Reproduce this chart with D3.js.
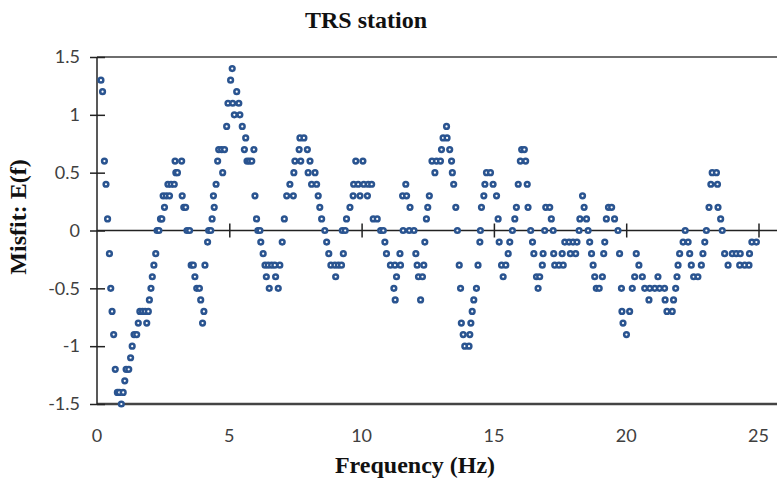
<!DOCTYPE html>
<html>
<head>
<meta charset="utf-8">
<script src="https://cdn.jsdelivr.net/npm/d3@7"></script>
<style>
  html, body { margin: 0; padding: 0; background: #ffffff; }
  svg { display: block; }
</style>
</head>
<body>
<svg id="chart" width="777" height="481"></svg>
<script>
// Titles and tick labels
const chartTitle = "TRS station";
const xTitle = "Frequency (Hz)";
const yTitle = "Misfit: E(f)";
const xTicks = [0, 5, 10, 15, 20, 25];
const xTickLabels = ["0", "5", "10", "15", "20", "25"];
const yTicks = [1.5, 1, 0.5, 0, -0.5, -1, -1.5];
const yTickLabels = ["1.5", "1", "0.5", "0", "-0.5", "-1", "-1.5"];

// Misfit samples: frequency (Hz) and misfit E(f)
const frequencyHz = [
  // 0 - 5 Hz
  0.15, 0.21, 0.28, 0.34, 0.40, 0.47, 0.52, 0.57, 0.63, 0.69,
  0.77, 0.84, 0.92, 0.99, 1.05, 1.10, 1.20, 1.27, 1.33, 1.40,
  1.50, 1.56, 1.62, 1.72, 1.82, 1.88, 1.94, 1.98, 2.04, 2.09,
  2.15, 2.22, 2.27, 2.34, 2.40, 2.45, 2.50, 2.55, 2.62, 2.68,
  2.74, 2.80, 2.92, 2.95, 2.98, 3.04, 3.20, 3.22, 3.28, 3.35,
  3.40, 3.50, 3.56, 3.64, 3.70, 3.77, 3.87, 3.92, 3.99, 4.04,
  4.08, 4.18, 4.22, 4.30, 4.35, 4.40, 4.43, 4.50, 4.56, 4.60,
  4.71, 4.75, 4.82, 4.90, 4.95,
  // 5 - 10 Hz
  5.05, 5.11, 5.13, 5.19, 5.28, 5.36, 5.40, 5.49, 5.57, 5.62,
  5.67, 5.76, 5.85, 5.93, 5.97, 6.03, 6.08, 6.16, 6.19, 6.28,
  6.35, 6.40, 6.47, 6.51, 6.60, 6.72, 6.75, 6.85, 6.91, 7.00,
  7.08, 7.17, 7.29, 7.42, 7.44, 7.48, 7.64, 7.67, 7.70, 7.82,
  7.95, 7.98, 8.05, 8.11, 8.24, 8.30, 8.36, 8.42, 8.49, 8.61,
  8.68, 8.76, 8.84, 8.99, 9.02, 9.12, 9.24, 9.27, 9.31, 9.38,
  9.43, 9.56, 9.68, 9.70, 9.78, 9.87, 9.94,
  // 10 - 15 Hz
  10.05, 10.08, 10.22, 10.25, 10.38, 10.44, 10.59, 10.72, 10.82, 10.88,
  10.94, 11.09, 11.22, 11.26, 11.27, 11.32, 11.45, 11.47, 11.55, 11.57,
  11.67, 11.70, 11.80, 11.83, 11.98, 12.05, 12.10, 12.15, 12.23, 12.30,
  12.35, 12.39, 12.45, 12.50, 12.56, 12.66, 12.77, 12.83, 12.98, 13.02,
  13.08, 13.21, 13.23, 13.33, 13.40, 13.43, 13.48, 13.56, 13.62, 13.69,
  13.74, 13.77, 13.84, 13.90, 14.06, 14.09, 14.13, 14.18, 14.24, 14.34,
  14.40, 14.47, 14.49, 14.53, 14.62, 14.66, 14.72, 14.87, 14.97,
  // 15 - 20 Hz
  15.10, 15.16, 15.20, 15.29, 15.35, 15.45, 15.54, 15.60, 15.70, 15.79,
  15.85, 15.92, 16.00, 16.05, 16.15, 16.20, 16.26, 16.29, 16.39, 16.46,
  16.51, 16.61, 16.67, 16.73, 16.83, 16.86, 16.92, 16.96, 17.11, 17.17,
  17.24, 17.26, 17.30, 17.46, 17.58, 17.62, 17.68, 17.84, 17.89, 17.99,
  18.09, 18.14, 18.22, 18.25, 18.35, 18.41, 18.50, 18.56, 18.62, 18.69,
  18.75, 18.81, 18.87, 18.98, 19.10, 19.15, 19.19, 19.25, 19.33, 19.45,
  19.56, 19.69, 19.75, 19.82, 19.84, 19.88,
  // 20 - 25 Hz
  20.01, 20.13, 20.23, 20.32, 20.38, 20.48, 20.61, 20.70, 20.86, 20.89,
  21.08, 21.20, 21.26, 21.45, 21.47, 21.54, 21.74, 21.79, 21.87, 21.92,
  21.96, 22.02, 22.15, 22.23, 22.34, 22.40, 22.46, 22.55, 22.71, 22.84,
  22.90, 22.97, 23.03, 23.13, 23.20, 23.25, 23.41, 23.45, 23.47, 23.57,
  23.63, 23.72, 23.85, 24.01, 24.16, 24.29, 24.31, 24.48, 24.64, 24.66,
  24.75, 24.92
];

const misfit = [
  // 0 - 5 Hz
  1.3, 1.2, 0.6, 0.4, 0.1, -0.2, -0.5, -0.7, -0.9, -1.2,
  -1.4, -1.4, -1.5, -1.4, -1.3, -1.2, -1.2, -1.1, -1.0, -0.9,
  -0.9, -0.8, -0.7, -0.7, -0.7, -0.8, -0.7, -0.6, -0.5, -0.4,
  -0.3, -0.2, 0.0, 0.0, 0.1, 0.1, 0.3, 0.2, 0.3, 0.4,
  0.3, 0.4, 0.4, 0.6, 0.5, 0.5, 0.6, 0.3, 0.2, 0.2,
  0.0, 0.0, -0.3, -0.3, -0.4, -0.5, -0.5, -0.6, -0.8, -0.7,
  -0.3, -0.1, 0.0, 0.0, 0.1, 0.3, 0.2, 0.4, 0.6, 0.7,
  0.7, 0.5, 0.7, 0.9, 1.1,
  // 5 - 10 Hz
  1.3, 1.4, 1.1, 1.0, 1.2, 1.1, 1.0, 0.9, 0.7, 0.8,
  0.6, 0.6, 0.6, 0.7, 0.3, 0.1, 0.0, 0.0, -0.1, -0.2,
  -0.3, -0.4, -0.3, -0.5, -0.3, -0.3, -0.4, -0.5, -0.3, -0.1,
  0.1, 0.3, 0.4, 0.3, 0.5, 0.6, 0.7, 0.8, 0.6, 0.8,
  0.7, 0.5, 0.6, 0.4, 0.5, 0.4, 0.3, 0.2, 0.1, 0.0,
  -0.1, -0.2, -0.3, -0.3, -0.4, -0.3, -0.3, 0.0, -0.2, 0.0,
  0.1, 0.2, 0.3, 0.4, 0.6, 0.4, 0.3,
  // 10 - 15 Hz
  0.6, 0.4, 0.3, 0.4, 0.4, 0.1, 0.1, 0.0, 0.0, -0.1,
  -0.2, -0.3, -0.5, -0.3, -0.6, -0.4, -0.2, -0.3, 0.3, 0.0,
  0.4, 0.3, 0.0, 0.2, 0.0, -0.2, -0.3, -0.4, -0.6, -0.4,
  -0.3, -0.1, 0.1, 0.2, 0.3, 0.6, 0.5, 0.6, 0.6, 0.7,
  0.8, 0.9, 0.8, 0.7, 0.6, 0.5, 0.4, 0.2, 0.0, -0.3,
  -0.5, -0.8, -0.9, -1.0, -1.0, -0.9, -0.8, -0.7, -0.6, -0.5,
  -0.3, -0.1, 0.0, 0.2, 0.3, 0.4, 0.5, 0.5, 0.4,
  // 15 - 20 Hz
  0.3, 0.1, -0.1, -0.3, -0.4, -0.3, -0.2, -0.1, 0.0, 0.1,
  0.2, 0.4, 0.6, 0.7, 0.7, 0.6, 0.4, 0.2, 0.0, -0.1,
  -0.2, -0.4, -0.5, -0.4, -0.3, -0.2, 0.0, 0.2, 0.2, 0.1,
  0.0, -0.2, -0.3, -0.3, -0.2, -0.3, -0.1, -0.1, -0.2, -0.1,
  -0.2, -0.1, 0.0, 0.1, 0.3, 0.2, 0.1, 0.0, -0.1, -0.2,
  -0.3, -0.4, -0.5, -0.5, -0.4, -0.2, -0.1, 0.1, 0.2, 0.2,
  0.1, 0.0, -0.2, -0.5, -0.7, -0.8,
  // 20 - 25 Hz
  -0.9, -0.7, -0.5, -0.4, -0.2, -0.3, -0.4, -0.5, -0.6, -0.5,
  -0.5, -0.4, -0.5, -0.5, -0.6, -0.7, -0.7, -0.6, -0.5, -0.4,
  -0.3, -0.2, -0.1, 0.0, -0.1, -0.2, -0.3, -0.4, -0.4, -0.3,
  -0.2, -0.1, 0.0, 0.2, 0.4, 0.5, 0.5, 0.4, 0.2, 0.1,
  0.0, -0.2, -0.3, -0.2, -0.2, -0.3, -0.2, -0.3, -0.3, -0.2,
  -0.1, -0.1
];

const points = frequencyHz.map((f, i) => ({ f: f, e: misfit[i] }));

const svg = d3.select("#chart");
const width = 777;

const x = d3.scaleLinear().domain([0, 25]).range([97, 758.5]);
const y = d3.scaleLinear().domain([-1.5, 1.5]).range([404, 57]);

const tickFont = "Lato, 'Open Sans', sans-serif";
const titleFont = "'Liberation Serif', 'Times New Roman', serif";

// Plot frame: top and bottom borders
svg.append("line")
  .attr("x1", x(0)).attr("x2", width)
  .attr("y1", y(1.5)).attr("y2", y(1.5))
  .attr("stroke", "#6e6e6e").attr("stroke-width", 2);
svg.append("line")
  .attr("x1", x(0)).attr("x2", width)
  .attr("y1", y(-1.5)).attr("y2", y(-1.5))
  .attr("stroke", "#444").attr("stroke-width", 2.5);

// Vertical axis
const yAxis = d3.axisLeft(y)
  .tickValues(yTicks)
  .tickFormat((d, i) => yTickLabels[i])
  .tickSizeInner(7)
  .tickSizeOuter(0)
  .tickPadding(10);
const gy = svg.append("g")
  .attr("transform", `translate(${x(0)},0)`)
  .call(yAxis);
gy.select(".domain").remove();
gy.selectAll(".tick line")
  .attr("x1", 8).attr("x2", -7)
  .attr("stroke", "#222").attr("stroke-width", 1.5);
gy.selectAll(".tick text")
  .attr("fill", "#404040")
  .style("font-family", tickFont)
  .style("font-size", "18px");
svg.append("line")
  .attr("x1", x(0)).attr("x2", x(0))
  .attr("y1", y(1.5)).attr("y2", y(-1.5))
  .attr("stroke", "#222").attr("stroke-width", 1.5);

// Horizontal axis crossing at zero
const xAxis = d3.axisBottom(x)
  .tickValues(xTicks.filter(d => d > 0))
  .tickFormat("")
  .tickSizeInner(7)
  .tickSizeOuter(0);
const gx = svg.append("g")
  .attr("transform", `translate(0,${y(0)})`)
  .call(xAxis);
gx.select(".domain").remove();
gx.selectAll(".tick line")
  .attr("y1", -7).attr("y2", 7)
  .attr("stroke", "#222").attr("stroke-width", 1.5);
svg.append("line")
  .attr("x1", x(0)).attr("x2", width)
  .attr("y1", y(0)).attr("y2", y(0))
  .attr("stroke", "#222").attr("stroke-width", 1.5);

// Frequency labels below the plot
svg.append("g").selectAll("text")
  .data(xTicks)
  .join("text")
  .attr("x", d => x(d))
  .attr("y", 442)
  .attr("text-anchor", "middle")
  .attr("fill", "#404040")
  .style("font-family", tickFont)
  .style("font-size", "18px")
  .text((d, i) => xTickLabels[i]);

// Markers: thick blue rings with a small white centre
svg.append("g").selectAll("circle")
  .data(points)
  .join("circle")
  .attr("cx", d => x(d.f))
  .attr("cy", d => y(d.e))
  .attr("r", 2.35)
  .attr("fill", "#ffffff")
  .attr("stroke", "#2a5490")
  .attr("stroke-width", 2.5);

// Titles
svg.append("text")
  .attr("x", 366).attr("y", 28)
  .attr("text-anchor", "middle")
  .style("font-family", titleFont)
  .style("font-weight", "bold")
  .style("font-size", "24px")
  .attr("fill", "#111")
  .text(chartTitle);

svg.append("text")
  .attr("x", 415).attr("y", 473)
  .attr("text-anchor", "middle")
  .style("font-family", titleFont)
  .style("font-weight", "bold")
  .style("font-size", "24px")
  .attr("fill", "#111")
  .text(xTitle);

svg.append("text")
  .attr("transform", "translate(26,217) rotate(-90)")
  .attr("text-anchor", "middle")
  .style("font-family", titleFont)
  .style("font-weight", "bold")
  .style("font-size", "24px")
  .attr("fill", "#111")
  .text(yTitle);
</script>
</body>
</html>
